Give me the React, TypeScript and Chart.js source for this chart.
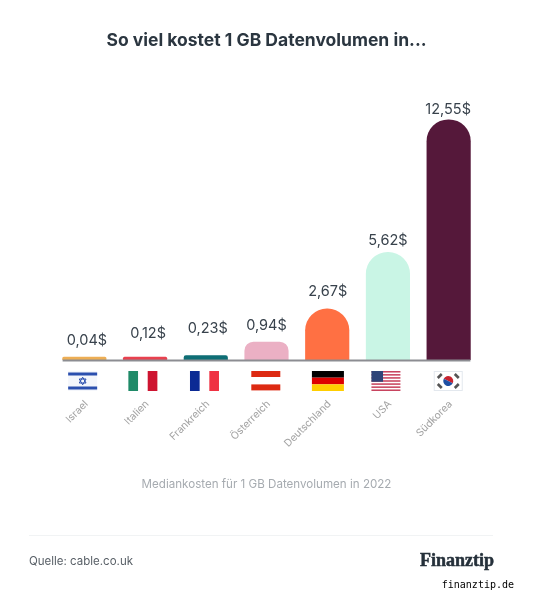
import React, { useEffect, useRef } from "react";
import { Chart, registerables } from "chart.js";

Chart.register(...registerables);

const countries = ["Israel", "Italien", "Frankreich", "Österreich", "Deutschland", "USA", "Südkorea"];
const costs = [0.04, 0.12, 0.23, 0.94, 2.67, 5.62, 12.55];
const valueLabels = ["0,04$", "0,12$", "0,23$", "0,94$", "2,67$", "5,62$", "12,55$"];
const barColors = ["#EDAE55", "#E8414F", "#0E6E75", "#EBB0C4", "#FF7043", "#C9F5E5", "#55183A"];
const labelGaps = [16, 23, 26.5, 16, 17, 12, 10];
const labelShifts = [2.5, 3, 2, 0, 0.5, 0, -0.5];
const flagShifts = [-1.7, -2.2, -1.3, -0.7, 0.7, -2, -0.4];
const titleText = "So viel kostet 1 GB Datenvolumen in...";
const axisTitle = "Mediankosten für 1 GB Datenvolumen in 2022";
const sourceText = "Quelle: cable.co.uk";
const brandText = "Finanztip";
const siteText = "finanztip.de";

const FONT = "Inter, 'Noto Sans', sans-serif";

function rect(ctx: CanvasRenderingContext2D, c: string, x: number, y: number, w: number, h: number) {
  ctx.fillStyle = c;
  ctx.fillRect(x, y, w, h);
}

function drawFlag(ctx: CanvasRenderingContext2D, i: number, cx: number, top: number) {
  const w = i === 4 ? 32 : 29;
  const h = 20;
  const x = cx - w / 2, y = top;
  const cy = y + h / 2;
  switch (i) {
    case 0:
      rect(ctx, "#F4F6FB", x, y, w, h);
      rect(ctx, "#2B4FAE", x, y + 1.5, w, 3);
      rect(ctx, "#2B4FAE", x, y + h - 4.5, w, 3);
      ctx.strokeStyle = "#2B4FAE";
      ctx.lineWidth = 1;
      for (const s of [1, -1]) {
        ctx.beginPath();
        ctx.moveTo(cx, cy - 3.8 * s);
        ctx.lineTo(cx + 3.4 * s, cy + 2 * s);
        ctx.lineTo(cx - 3.4 * s, cy + 2 * s);
        ctx.closePath();
        ctx.stroke();
      }
      break;
    case 1:
      rect(ctx, "#1F8A68", x, y, w / 3, h);
      rect(ctx, "#CE1430", x + (2 * w) / 3, y, w / 3, h);
      break;
    case 2:
      rect(ctx, "#0B2A94", x, y, w / 3, h);
      rect(ctx, "#EF3142", x + (2 * w) / 3, y, w / 3, h);
      break;
    case 3:
      rect(ctx, "#DD2A12", x, y, w, h * 0.3);
      rect(ctx, "#DD2A12", x, y + h * 0.67, w, h * 0.3);
      break;
    case 4:
      rect(ctx, "#000000", x, y, w, h / 3);
      rect(ctx, "#DD0000", x, y + h / 3, w, h / 3);
      rect(ctx, "#FFCE00", x, y + (2 * h) / 3, w, h / 3);
      break;
    case 5: {
      rect(ctx, "#FFFFFF", x, y, w, h);
      for (let s = 0; s < 7; s++) rect(ctx, "#C8445F", x, y + (s * 2 * h) / 13, w, h / 13);
      rect(ctx, "#2F4478", x, y, w * 0.4, (7 * h) / 13);
      break;
    }
    default: {
      rect(ctx, "#FFFFFF", x, y, w, h);
      ctx.strokeStyle = "#E3E8EE";
      ctx.lineWidth = 1;
      ctx.strokeRect(x + 0.5, y + 0.5, w - 1, h - 1);
      ctx.fillStyle = "#C8232F";
      ctx.beginPath();
      ctx.arc(cx, cy, 5, Math.PI * 1.15, Math.PI * 0.15);
      ctx.fill();
      ctx.fillStyle = "#1E4FA3";
      ctx.beginPath();
      ctx.arc(cx, cy, 5, Math.PI * 0.15, Math.PI * 1.15);
      ctx.fill();
      ctx.strokeStyle = "#555";
      ctx.lineWidth = 2.6;
      for (const [dx, dy, a] of [[-8.5, -5, -1], [8.5, -5, 1], [-8.5, 5, 1], [8.5, 5, -1]]) {
        ctx.beginPath();
        ctx.moveTo(cx + dx - 2, cy + dy - 2 * a);
        ctx.lineTo(cx + dx + 2, cy + dy + 2 * a);
        ctx.stroke();
      }
    }
  }
}

const decorations = {
  id: "decorations",
  afterDatasetsDraw(chart: any) {
    const ctx: CanvasRenderingContext2D = chart.ctx;
    const bars = chart.getDatasetMeta(0).data;
    const base = chart.scales.y.getPixelForValue(0);
    ctx.save();
    ctx.fillStyle = "#8C8D92";
    const half = bars[0].width / 2;
    ctx.fillRect(bars[0].x - half, base - 0.5, bars[bars.length - 1].x + half - bars[0].x + half, 2);

    ctx.font = `400 14.5px ${FONT}`;
    ctx.textAlign = "center";
    ctx.textBaseline = "middle";
    bars.forEach((bar: any, i: number) => {
      ctx.fillStyle = "#38424C";
      ctx.fillText(valueLabels[i], bar.x + labelShifts[i], bar.y - labelGaps[i]);
      drawFlag(ctx, i, bar.x + flagShifts[i], base + 11);
    });

    const w = chart.width;
    ctx.fillStyle = "#F1F3F4";
    ctx.fillRect(29, 535, w - 29 - 41, 1);
    ctx.textBaseline = "middle";
    ctx.textAlign = "left";
    ctx.font = `400 11.5px ${FONT}`;
    ctx.fillStyle = "#5A6168";
    ctx.fillText(sourceText, 29, 561.5);
    ctx.textAlign = "right";
    ctx.font = `700 18px 'Liberation Serif', serif`;
    ctx.fillStyle = "#25303A";
    ctx.strokeStyle = "#25303A";
    ctx.lineWidth = 0.5;
    ctx.fillText(brandText, 494, 561);
    ctx.strokeText(brandText, 494, 561);
    ctx.font = `400 10px 'DejaVu Sans Mono', monospace`;
    ctx.fillStyle = "#000000";
    ctx.fillText(siteText, 514, 585);
    ctx.restore();
  },
};

export default function App() {
  const ref = useRef<HTMLCanvasElement>(null);
  useEffect(() => {
    const chart = new Chart(ref.current!, {
      type: "bar",
      data: {
        labels: countries,
        datasets: [
          {
            data: costs,
            backgroundColor: barColors,
            barThickness: 43.5,
            minBarLength: 3,
            borderRadius: { topLeft: 22, topRight: 22, bottomLeft: 0, bottomRight: 0 },
            borderSkipped: false,
          },
        ],
      },
      options: {
        responsive: false,
        animation: false,
        devicePixelRatio: 1,
        layout: { padding: { left: 54, right: 55, top: 0, bottom: 0 } },
        plugins: {
          legend: { display: false },
          tooltip: { enabled: false },
          title: {
            display: true,
            text: titleText,
            color: "#2B3640",
            font: { family: FONT, size: 17.5, weight: "bold", lineHeight: 1.2 },
            padding: { top: 30, bottom: 41 },
          },
        },
        scales: {
          x: {
            grid: { display: false },
            border: { display: false },
            afterFit: (s: any) => {
              s.height = 240;
            },
            ticks: {
              color: "#A3A3A3",
              font: { family: FONT, size: 10.3 },
              minRotation: 45,
              maxRotation: 45,
              padding: 30,
              labelOffset: 2,
              autoSkip: false,
            },
            title: {
              display: true,
              text: axisTitle,
              color: "#A6ABB0",
              font: { family: FONT, size: 11.6 },
              padding: { top: 0, bottom: 109 },
            },
          },
          y: { display: false, min: 0, max: 14 },
        },
      },
      plugins: [decorations],
    } as any);
    return () => chart.destroy();
  }, []);
  return (
    <div style={{ position: "fixed", left: 0, top: 0, width: 534, height: 600, background: "#fff" }}>
      <canvas ref={ref} width={534} height={600} style={{ display: "block" }} />
    </div>
  );
}
